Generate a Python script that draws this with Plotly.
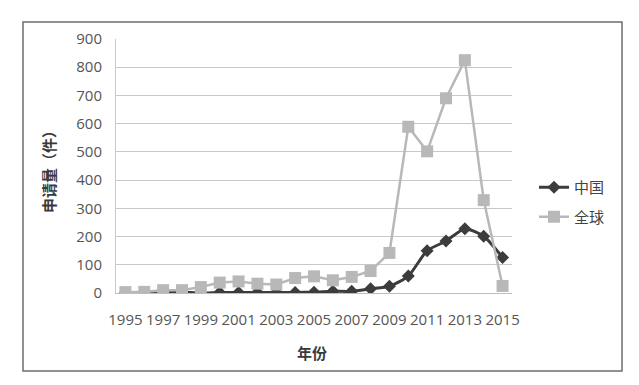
import plotly.graph_objects as go

years = list(range(1995, 2016))
china = [1, 1, 2, 3, 0, 2, 2, 2, 2, 2, 3, 6, 6, 15, 24, 60, 150, 184, 228, 201, 126]
world = [3, 4, 10, 10, 21, 37, 41, 33, 30, 53, 59, 45, 57, 78, 142, 589, 502, 690, 825, 329, 25]
tick_years = list(range(1995, 2016, 2))
y_ticks = list(range(0, 901, 100))

OFF = 8  # default page body margin
W, H = 639 - 2 * OFF, 385 - 2 * OFF
# plot area in page pixels
PL, PR, PT, PB = 116, 512, 39, 293
L, R, T, B = PL - OFF, PR - OFF, PT - OFF, PB - OFF

def px(xp):
    return (xp - OFF - L) / (R - L)

def py(yp):
    return (B - (yp - OFF)) / (B - T)

fig = go.Figure()
fig.add_trace(go.Scatter(
    x=years, y=china, name="中国", mode="lines+markers", legendgroup="a",
    line=dict(color="#3c3c3c", width=3, shape="spline", smoothing=0.6),
    marker=dict(symbol="diamond", size=10, color="#3c3c3c"),
))
fig.add_trace(go.Scatter(
    x=years, y=world, name="全球", mode="lines+markers", legendgroup="b",
    line=dict(color="#b8b8b8", width=2.5),
    marker=dict(symbol="square", size=12, color="#b8b8b8"),
))

fig.add_shape(type="rect", xref="paper", yref="paper",
              x0=px(23), x1=px(622), y0=py(371), y1=py(22),
              line=dict(color="#6e6e6e", width=1.5), layer="below")

fig.add_annotation(text="<b>申请量（件）</b>", xref="paper", yref="paper",
                   x=px(48), y=py(168), textangle=-90, showarrow=False,
                   font=dict(size=15, color="#3a3a3a", family="Noto Sans CJK SC"),
                   xanchor="center", yanchor="middle")
fig.add_annotation(text="<b>年份</b>", xref="paper", yref="paper",
                   x=px(312), y=py(352), showarrow=False,
                   font=dict(size=15, color="#3a3a3a", family="Noto Sans CJK SC"),
                   xanchor="center", yanchor="middle")

fig.update_layout(
    width=W, height=H,
    margin=dict(l=L, r=W - R, t=T, b=H - B, autoexpand=False),
    paper_bgcolor="white", plot_bgcolor="white",
    font=dict(family="Noto Sans CJK SC, DejaVu Sans", color="#555555", size=14),
    showlegend=True,
    legend=dict(x=px(526 + OFF), y=py(163 + OFF), xanchor="left", yanchor="top",
                font=dict(size=15, color="#444444"), tracegroupgap=7,
                itemwidth=30, bgcolor="rgba(0,0,0,0)"),
    xaxis=dict(range=[1994.5, 2015.5], tickvals=tick_years, ticktext=[str(y) for y in tick_years],
               showgrid=False, showline=True, linecolor="#bdbdbd", linewidth=1,
               ticks="", zeroline=False, tickfont=dict(size=15, color="#555555", family="Open Sans"),
               ticklabelstandoff=13),
    yaxis=dict(range=[0, 900], tickvals=y_ticks, showgrid=True, gridcolor="#c8c8c8", gridwidth=1,
               showline=True, linecolor="#c8c8c8", zeroline=False, ticks="",
               tickfont=dict(size=15, color="#555555", family="Open Sans"),
               ticklabelstandoff=10),
)

fig.write_html("out.html")
